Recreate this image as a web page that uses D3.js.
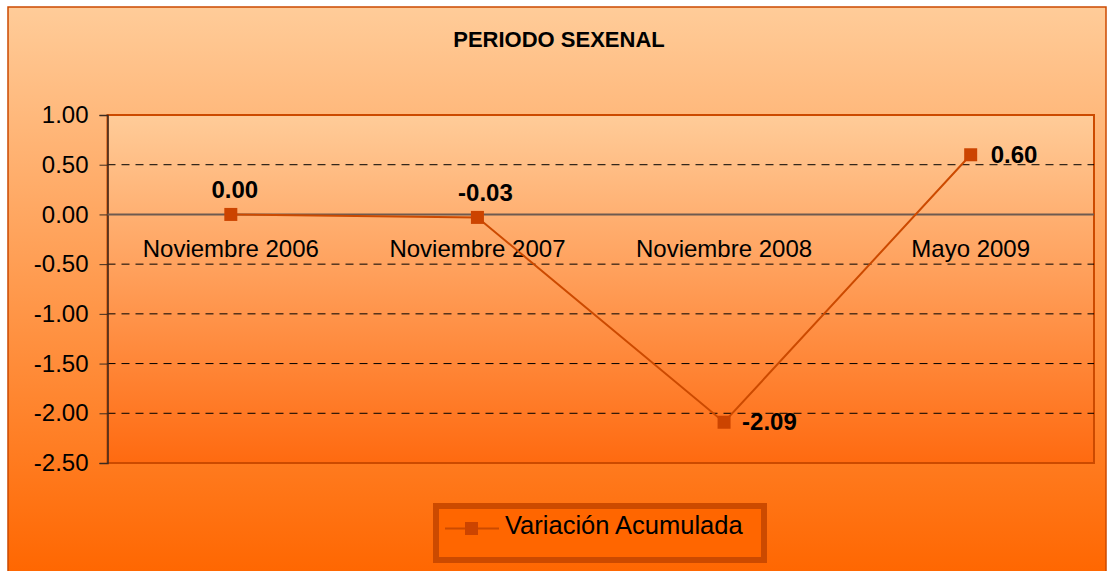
<!DOCTYPE html>
<html>
<head>
<meta charset="utf-8">
<script src="https://cdn.jsdelivr.net/npm/d3@7"></script>
<style>
body { margin: 0; background: #fff; }
text { font-family: "Liberation Sans", Arial, sans-serif; }
</style>
</head>
<body>
<script>
// data
var categories = ["Noviembre 2006", "Noviembre 2007", "Noviembre 2008", "Mayo 2009"];
var values = [0.00, -0.03, -2.09, 0.60];
var labels = ["0.00", "-0.03", "-2.09", "0.60"];
var yTicks = [1.0, 0.5, 0.0, -0.5, -1.0, -1.5, -2.0, -2.5];

var width = 1109, height = 571;
var plotLeft = 107.5, plotRight = 1094, plotTop = 115, plotBottom = 463;

var svg = d3.select("body").append("svg")
    .attr("width", width)
    .attr("height", height);

var defs = svg.append("defs");
var g1 = defs.append("linearGradient").attr("id", "bg")
    .attr("x1", 0).attr("y1", 0).attr("x2", 0).attr("y2", 1);
g1.append("stop").attr("offset", "0%").attr("stop-color", "#ffcc99");
g1.append("stop").attr("offset", "100%").attr("stop-color", "#ff6600");
var g2 = defs.append("linearGradient").attr("id", "plotbg")
    .attr("x1", 0).attr("y1", 0).attr("x2", 0).attr("y2", 1);
g2.append("stop").attr("offset", "0%").attr("stop-color", "#ffcc99");
g2.append("stop").attr("offset", "100%").attr("stop-color", "#ff6a10");

// outer chart area
svg.append("rect")
    .attr("x", 8).attr("y", 7)
    .attr("width", 1098).attr("height", 570)
    .style("fill", "url(#bg)")
    .style("stroke", "#cc4a00")
    .style("stroke-width", 1.5);

// plot area
svg.append("rect")
    .attr("x", plotLeft).attr("y", plotTop)
    .attr("width", plotRight - plotLeft).attr("height", plotBottom - plotTop)
    .style("fill", "url(#plotbg)")
    .style("stroke", "#cc4a00")
    .style("stroke-width", 2);

var x = d3.scaleBand().domain(categories).range([plotLeft, plotRight]);
var y = d3.scaleLinear().domain([-2.5, 1.0]).range([plotBottom, plotTop]);

// gridlines
svg.selectAll(".grid")
    .data(yTicks.filter(function(d) { return d !== 0 && d !== 1.0 && d !== -2.5; }))
    .enter().append("line")
    .attr("x1", plotLeft).attr("x2", plotRight)
    .attr("y1", function(d) { return y(d); })
    .attr("y2", function(d) { return y(d); })
    .style("stroke", "#000")
    .style("stroke-width", 1)
    .style("stroke-dasharray", "8,6");

// y axis
var yAxis = d3.axisLeft(y).tickValues(yTicks)
    .tickFormat(d3.format(".2f")).tickSize(8).tickPadding(11);
var ya = svg.append("g").attr("transform", "translate(" + plotLeft + ",0)").call(yAxis);
ya.select(".domain").style("stroke", "#3a2a20").style("stroke-width", 1.5);
ya.selectAll(".tick line").style("stroke", "#3a2a20");
ya.selectAll("text").style("font-size", "24px").style("fill", "#000")
    .style("font-family", "Liberation Sans, Arial, sans-serif")
    .text(function(d) { return d3.format(".2f")(d).replace("−", "-"); });

// zero line (category axis)
svg.append("line")
    .attr("x1", plotLeft).attr("x2", plotRight)
    .attr("y1", y(0)).attr("y2", y(0))
    .style("stroke", "#6e5a50")
    .style("stroke-width", 2);

// category labels
svg.selectAll(".cat")
    .data(categories)
    .enter().append("text")
    .attr("x", function(d) { return x(d) + x.bandwidth() / 2; })
    .attr("y", y(0) + 43)
    .attr("text-anchor", "middle")
    .style("font-size", "24px")
    .style("fill", "#000")
    .text(function(d) { return d; });

// line
var line = d3.line()
    .x(function(d, i) { return x(categories[i]) + x.bandwidth() / 2; })
    .y(function(d) { return y(d); });
svg.append("path")
    .datum(values)
    .attr("d", line)
    .style("fill", "none")
    .style("stroke", "#cc4a00")
    .style("stroke-width", 2);

// markers
svg.selectAll(".pt")
    .data(values)
    .enter().append("rect")
    .attr("x", function(d, i) { return x(categories[i]) + x.bandwidth() / 2 - 6.5; })
    .attr("y", function(d) { return y(d) - 6.5; })
    .attr("width", 13).attr("height", 13)
    .style("fill", "#cc4400");

// data labels
var offsets = [[4, -16, "middle"], [8, -16, "middle"], [18, 8, "start"], [20, 8, "start"]];
svg.selectAll(".lbl")
    .data(values)
    .enter().append("text")
    .attr("x", function(d, i) { return x(categories[i]) + x.bandwidth() / 2 + offsets[i][0]; })
    .attr("y", function(d, i) { return y(d) + offsets[i][1]; })
    .attr("text-anchor", function(d, i) { return offsets[i][2]; })
    .style("font-size", "24px")
    .style("font-weight", "bold")
    .style("fill", "#000")
    .text(function(d, i) { return labels[i]; });

// title
svg.append("text")
    .attr("x", 559).attr("y", 47)
    .attr("text-anchor", "middle")
    .style("font-size", "22px")
    .style("font-weight", "bold")
    .text("PERIODO SEXENAL");

// legend
var lg = svg.append("g");
lg.append("rect")
    .attr("x", 436).attr("y", 506)
    .attr("width", 328).attr("height", 54)
    .style("fill", "#ff6600")
    .style("stroke", "#cc4a00")
    .style("stroke-width", 6);
lg.append("line")
    .attr("x1", 445).attr("x2", 499)
    .attr("y1", 528.5).attr("y2", 528.5)
    .style("stroke", "#cc4a00").style("stroke-width", 2);
lg.append("rect")
    .attr("x", 465).attr("y", 522).attr("width", 13).attr("height", 13)
    .style("fill", "#cc4400");
lg.append("text")
    .attr("x", 505).attr("y", 534)
    .style("font-size", "25.5px")
    .text("Variación Acumulada");
</script>
</body>
</html>
